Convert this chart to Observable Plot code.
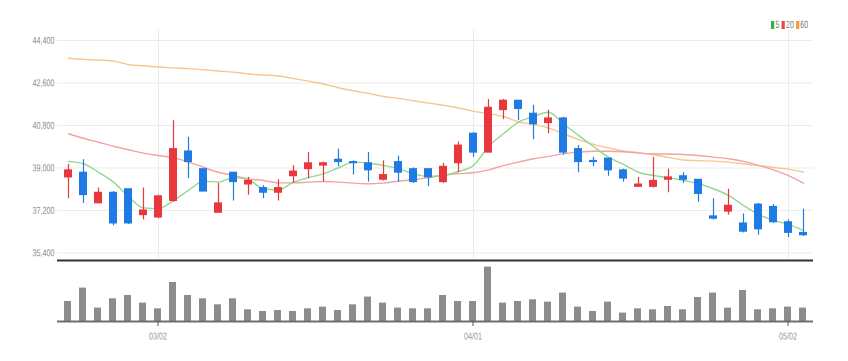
<!DOCTYPE html>
<html><head><meta charset="utf-8">
<script src="https://cdn.jsdelivr.net/npm/d3@7"></script>
<script src="https://cdn.jsdelivr.net/npm/@observablehq/plot@0.6"></script>
<style>
body{margin:0;background:#fff;font-family:"Liberation Sans",Arial,sans-serif;}
#wrap{position:relative;width:848px;height:361px;overflow:hidden;}
#legend{position:absolute;top:18px;left:769px;font-size:10.5px;line-height:12px;color:#777;white-space:nowrap;transform:scaleX(0.66) rotate(0.03deg);transform-origin:left center;}
#legend .sw{display:inline-block;width:5px;height:8px;margin:0 2px 0 3px;vertical-align:-0.5px;}
</style></head><body>
<div id="wrap"><div id="legend"></div><div id="price"></div><div id="vol"></div></div>
<script>
const dates = ["02/21","02/22","02/23","02/24","02/25","02/28",
 "03/02","03/03","03/04","03/07","03/08","03/10","03/11","03/14","03/15","03/16","03/17","03/18","03/21","03/22","03/23","03/24","03/25","03/28","03/29","03/30","03/31",
 "04/01","04/04","04/05","04/06","04/07","04/08","04/11","04/12","04/13","04/14","04/15","04/18","04/19","04/20","04/21","04/22","04/25","04/26","04/27","04/28","04/29",
 "05/02","05/03"];
const open  = [38600,38800,37500,37950,38100,37000,36900,37600,39700,38950,37100,38800,38300,38150,37950,38650,38950,39100,39350,39250,39200,38500,39250,38950,38950,38400,39200,40450,39650,41450,41850,41300,40900,41100,39800,39300,39400,38900,38200,38200,38500,38650,38500,36950,37150,36650,37450,37350,36700,36250];
const high  = [39150,39350,38150,38000,38100,38150,37850,41000,40300,38950,38350,38800,38600,38250,38500,39100,39650,39250,39800,39300,39650,39300,39500,39000,38950,39200,40100,40500,41900,41900,41850,41650,41450,41150,39950,39450,39400,38950,38600,39450,38950,38800,38500,37700,38100,37050,37500,37450,36800,37250];
const low   = [37700,37500,37500,36550,36600,36800,36850,37550,38550,38000,37100,37600,37850,37700,37600,38350,38550,38400,39050,38700,38400,38450,38400,38350,38200,38350,38800,39450,39650,41050,41000,40200,40450,39550,38800,39050,38650,38400,38200,38150,37950,38350,37550,36800,37000,36250,36150,36650,36050,36100];
const close = [38900,37850,37950,36650,36650,37200,37800,39800,39250,38000,37500,38400,38450,37950,38150,38850,39200,39200,39250,39200,38900,38700,38800,38400,38600,39050,39950,39650,41550,41850,41500,40850,41100,39650,39250,39250,38900,38550,38300,38450,38600,38500,37900,36850,37400,36300,36400,36700,36250,36150];
const ma5   = [39280,39180,38820,38400,37790,37310,37280,37620,38050,38440,38400,38590,38500,38120,38080,38400,38590,38750,39010,39250,39200,39110,38970,38750,38640,38680,38850,39110,39910,40450,40940,41180,41360,40870,40380,39910,39460,39150,38820,38680,38590,38470,38330,38120,37840,37410,37030,36780,36610,36350];
const ma20  = [40450,40260,40090,39920,39770,39630,39530,39430,39250,39030,38820,38680,38540,38470,38370,38370,38400,38430,38400,38360,38330,38360,38440,38500,38590,38700,38760,38800,38920,39100,39250,39390,39490,39600,39670,39710,39710,39690,39630,39600,39590,39570,39530,39460,39390,39280,39110,38920,38680,38360];
const ma60  = [43650,43600,43570,43530,43380,43330,43280,43240,43210,43160,43110,43060,42980,42940,42900,42790,42680,42560,42400,42270,42160,42030,41950,41850,41750,41660,41540,41400,41300,41180,40950,40850,40700,40450,40200,40000,39850,39720,39650,39560,39450,39340,39310,39290,39250,39180,39100,39020,38950,38820];
const volume = [200,334,134,227,260,184,127,390,260,227,167,227,117,100,110,100,127,144,110,167,244,184,134,127,127,260,200,200,544,184,200,217,194,284,144,100,194,84,127,117,150,117,240,284,134,310,117,127,144,134];
const xTicks = ["03/02","04/01","05/02"];
const yTicks = [35400,37200,39000,40800,42600,44400];
const maNames = ["5","20","60"];
const maColors = ["#2fb344","#e8474a","#f39a3c"];
const lineColors = ["#92d98f","#f3a3a3","#f8c591"];
const UP = "#e8383d", DOWN = "#1f7ae3";

const rows = dates.map((d,i)=>({d, o:open[i], h:high[i], l:low[i], c:close[i],
  m5:ma5[i], m20:ma20[i], m60:ma60[i], v:volume[i]}));
const col = r => r.c >= r.o ? UP : DOWN;
const FONT = '"Liberation Sans",Arial,sans-serif';

function narrow(svg, sel, k){
  svg.querySelectorAll(sel).forEach(t=>{
    let tr = t.getAttribute("transform")||"";
    const xa = t.getAttribute("x");
    if (xa !== null && isFinite(+xa)) { tr += ` translate(${+xa},0)`; t.removeAttribute("x"); }
    t.setAttribute("transform", `${tr} scale(${k},1) rotate(0.03)`);
  });
}

const price = Plot.plot({
  width:848, height:262, marginLeft:57, marginRight:35, marginTop:30, marginBottom:2,
  style:{fontFamily:FONT, color:"#8a8a8a", background:"transparent"},
  x:{type:"band", domain:dates, paddingInner:0.47, paddingOuter:0.264, axis:null},
  y:{domain:[35080,44825], axis:null},
  marks:[
    Plot.gridY(yTicks,{stroke:"#ececec", strokeOpacity:1}),
    Plot.gridX(xTicks,{stroke:"#ececec", strokeOpacity:1}),
    Plot.axisY(yTicks,{tickSize:0, tickPadding:3, tickFormat:d3.format(","), fontSize:10, label:null}),
    Plot.lineY(rows,{x:"d", y:"m60", stroke:lineColors[2], strokeWidth:1.4, curve:"monotone-x"}),
    Plot.lineY(rows,{x:"d", y:"m20", stroke:lineColors[1], strokeWidth:1.4, curve:"monotone-x"}),
    Plot.lineY(rows,{x:"d", y:"m5", stroke:lineColors[0], strokeWidth:1.4, curve:"monotone-x"}),
    Plot.ruleX(rows,{x:"d", y1:"l", y2:"h", stroke:col, strokeWidth:1.2}),
    Plot.barY(rows,{x:"d", y1:"o", y2:"c", fill:col, insetTop:-0.5, insetBottom:-0.5}),
    Plot.ruleY([35080],{stroke:"#333", strokeWidth:2})
  ]
});
narrow(price, 'g[aria-label="y-axis tick label"] text', 0.72);
document.getElementById("price").appendChild(price);

const vol = Plot.plot({
  width:848, height:99, marginLeft:57, marginRight:35, marginTop:4, marginBottom:40,
  style:{fontFamily:FONT, color:"#999", background:"transparent"},
  x:{type:"band", domain:dates, paddingInner:0.53, paddingOuter:0.294, axis:null},
  y:{domain:[0,550], axis:null},
  marks:[
    Plot.barY(rows,{x:"d", y:"v", fill:"#8c8c8c"}),
    Plot.ruleY([0],{stroke:"#6e6e6e", strokeWidth:2}),
    Plot.axisX(xTicks,{tickSize:5, tickPadding:6, fontSize:10, stroke:"#555", label:null})
  ]
});
narrow(vol, 'g[aria-label="x-axis tick label"] text', 0.72);
document.getElementById("vol").appendChild(vol);

const lg = document.getElementById("legend");
maNames.forEach((n,i)=>{
  const s = document.createElement("span"); s.className="sw"; s.style.background = maColors[i];
  lg.appendChild(s);
  lg.appendChild(document.createTextNode(n));
});
</script>
</body></html>
